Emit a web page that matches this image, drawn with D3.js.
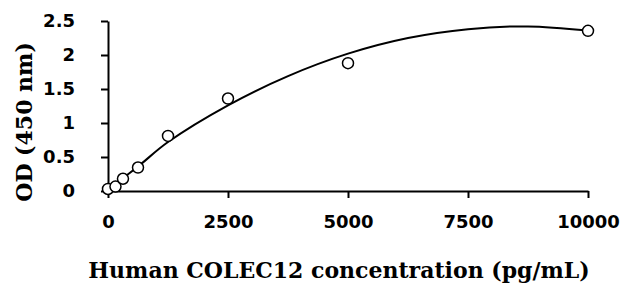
<!DOCTYPE html>
<html>
<head>
<meta charset="utf-8">
<script src="https://cdn.jsdelivr.net/npm/d3@7"></script>
<style>
	body { margin: 0; background: #fff; }
	.axis path, .axis line { stroke: #000; stroke-width: 2px; }
	.axis text { font-family: "DejaVu Sans", sans-serif; font-weight: bold; font-size: 18px; fill: #000; }
	.axis-name { font-family: "DejaVu Serif", serif; font-weight: bold; font-size: 22px; fill: #000; }
</style>
</head>
<body>
<div id="chart-area"></div>
<script>

// SVG Size
var width = 625,
	height = 291;

// Measured points (pg/mL vs OD)
var concentration = [0, 156, 312, 625, 1250, 2500, 5000, 10000];
var od = [0.03, 0.065, 0.18, 0.345, 0.81, 1.36, 1.88, 2.355];

// Trend line
var fitX = [0, 625, 1250, 2500, 3750, 5000, 6250, 7500, 8750, 10000];
var fitY = [0.02, 0.36, 0.72, 1.26, 1.69, 2.02, 2.25, 2.38, 2.42, 2.36];

var xTicks = [0, 2500, 5000, 7500, 10000];
var yTicks = [0, 0.5, 1, 1.5, 2, 2.5];

var svg = d3.select("#chart-area")
		.append("svg")
		.attr("width", width)
		.attr("height", height);

var xScale = d3.scaleLinear()
		.domain([0, 10000])
		.range([108, 588]);

var yScale = d3.scaleLinear()
		.domain([0, 2.5])
		.range([191, 21]);

var xAxis = d3.axisBottom().scale(xScale)
		.tickValues(xTicks)
		.tickSize(7)
		.tickSizeOuter(0)
		.tickPadding(17)
		.tickFormat(d3.format("d"));

var yAxis = d3.axisLeft().scale(yScale)
		.tickValues(yTicks)
		.tickSize(7)
		.tickSizeOuter(0)
		.tickPadding(26)
		.tickFormat(function(d){ return String(d); });

svg.append("g")
		.attr("class", "axis x-axis")
		.attr("transform", "translate(0," + yScale(0) + ")")
		.call(xAxis);

svg.append("g")
		.attr("class", "axis y-axis")
		.attr("transform", "translate(" + xScale(0) + ",0)")
		.call(yAxis);

// trend line
var fitData = fitX.map(function(x, i){ return [x, fitY[i]]; });
var line = d3.line()
		.x(function(d){ return xScale(d[0]); })
		.y(function(d){ return yScale(d[1]); })
		.curve(d3.curveCatmullRom);

svg.append("path")
		.datum(fitData)
		.attr("d", line)
		.attr("fill", "none")
		.attr("stroke", "#000")
		.attr("stroke-width", 2);

// points
svg.selectAll("circle")
		.data(concentration)
		.enter()
		.append("circle")
		.attr("cx", function(d){ return xScale(d); })
		.attr("cy", function(d, i){ return yScale(od[i]); })
		.attr("r", 5.5)
		.attr("fill", "#fff")
		.attr("stroke", "#000")
		.attr("stroke-width", 1.5);

svg.append("text")
		.attr("class", "axis-name")
		.attr("x", 339)
		.attr("y", 278)
		.attr("text-anchor", "middle")
		.text("Human COLEC12 concentration (pg/mL)");

svg.append("text")
		.attr("class", "axis-name")
		.attr("transform", "translate(32,122) rotate(-90)")
		.attr("text-anchor", "middle")
		.text("OD (450 nm)");

</script>
</body>
</html>
